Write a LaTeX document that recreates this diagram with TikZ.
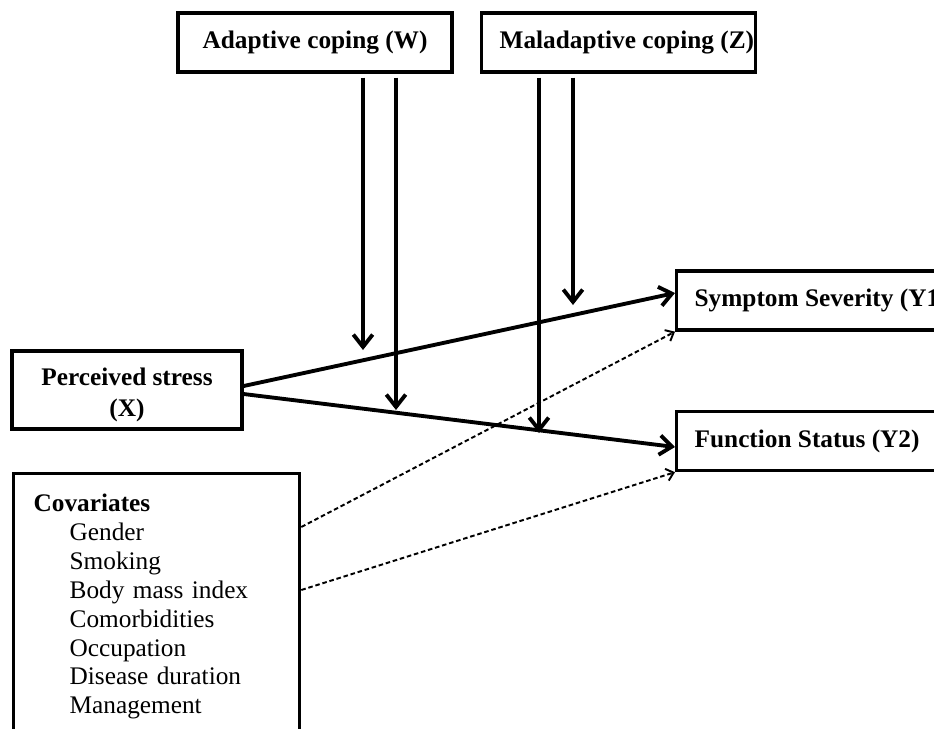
\documentclass[tikz,border=0pt]{standalone}
\usepackage{fontspec}
\setmainfont{Liberation Serif}
\usetikzlibrary{arrows.meta,positioning}

\begin{document}
\begin{tikzpicture}[x=0.02cm,y=-0.02cm,
    box/.style={draw,rectangle,line width=1.9pt,inner sep=0pt,minimum height=1.18cm,
                font=\fontsize{14.4}{18}\selectfont\bfseries},
    arr/.style={line width=2.2pt,-{Straight Barb[length=7pt,width=11pt]}},
    covarr/.style={line width=1.1pt,dash pattern=on 2.6pt off 1.6pt,-{Straight Barb[length=4pt,width=7pt]}}]
    \useasboundingbox (0,0) rectangle (934,728) ;
    \clip (0,0) rectangle (934,728) ;

    % moderators
    \node[box,minimum width=5.48cm] (W) at (315,42.5) {Adaptive coping (W)} ;
    \node[box,anchor=west,inner xsep=0.36cm] (Z) at (480,42.5) {\makebox[4.76cm][l]{Maladaptive coping (Z)}} ;

    % predictor and outcomes
    \node[box,minimum width=4.6cm,minimum height=1.56cm,align=center] (X) at (127,390) {\rule{0pt}{15.6pt}Perceived stress\\(X)} ;
    \node[box,anchor=west,inner xsep=0.36cm] (Y1) at (675,300.5) {\makebox[4.76cm][l]{Symptom Severity (Y1)}} ;
    \node[box,anchor=west,inner xsep=0.36cm] (Y2) at (675,441) {\makebox[4.76cm][l]{Function Status (Y2)}} ;

    % covariates
    \node[draw,rectangle,line width=1.9pt,anchor=north west,minimum height=5.32cm,
          inner xsep=0.4cm,text width=4.92cm,align=left,
          font=\fontsize{14.4}{16.44}\selectfont] (C) at (12,472)
        {\textbf{Covariates}\\
         \hspace*{0.72cm}Gender\\
         \hspace*{0.72cm}Smoking\\
         \hspace*{0.72cm}Body mass index\\
         \hspace*{0.72cm}Comorbidities\\
         \hspace*{0.72cm}Occupation\\
         \hspace*{0.72cm}Disease duration\\
         \hspace*{0.72cm}Management} ;

    \coordinate (w1) at (363,350) ;
    \coordinate (w2) at (396,410) ;
    \coordinate (z1) at (539,433) ;
    \coordinate (z2) at (573,305) ;

    \path[arr] ([yshift=0.08cm]X.east) edge ([yshift=0.15cm]Y1.west) ;
    \path[arr] ([yshift=-0.08cm]X.east) edge ([yshift=-0.12cm]Y2.west) ;

    \path[arr,shorten <=0.08cm] (W.south -| w1) edge (w1) ;
    \path[arr,shorten <=0.08cm] (W.south -| w2) edge (w2) ;
    \path[arr,shorten <=0.08cm] (Z.south -| z1) edge (z1) ;
    \path[arr,shorten <=0.08cm] (Z.south -| z2) edge (z2) ;

    \path[covarr] (C.east |- 0,527) edge (Y1.south west) ;
    \path[covarr] (C.east |- 0,590) edge (Y2.south west) ;
\end{tikzpicture}
\end{document}
